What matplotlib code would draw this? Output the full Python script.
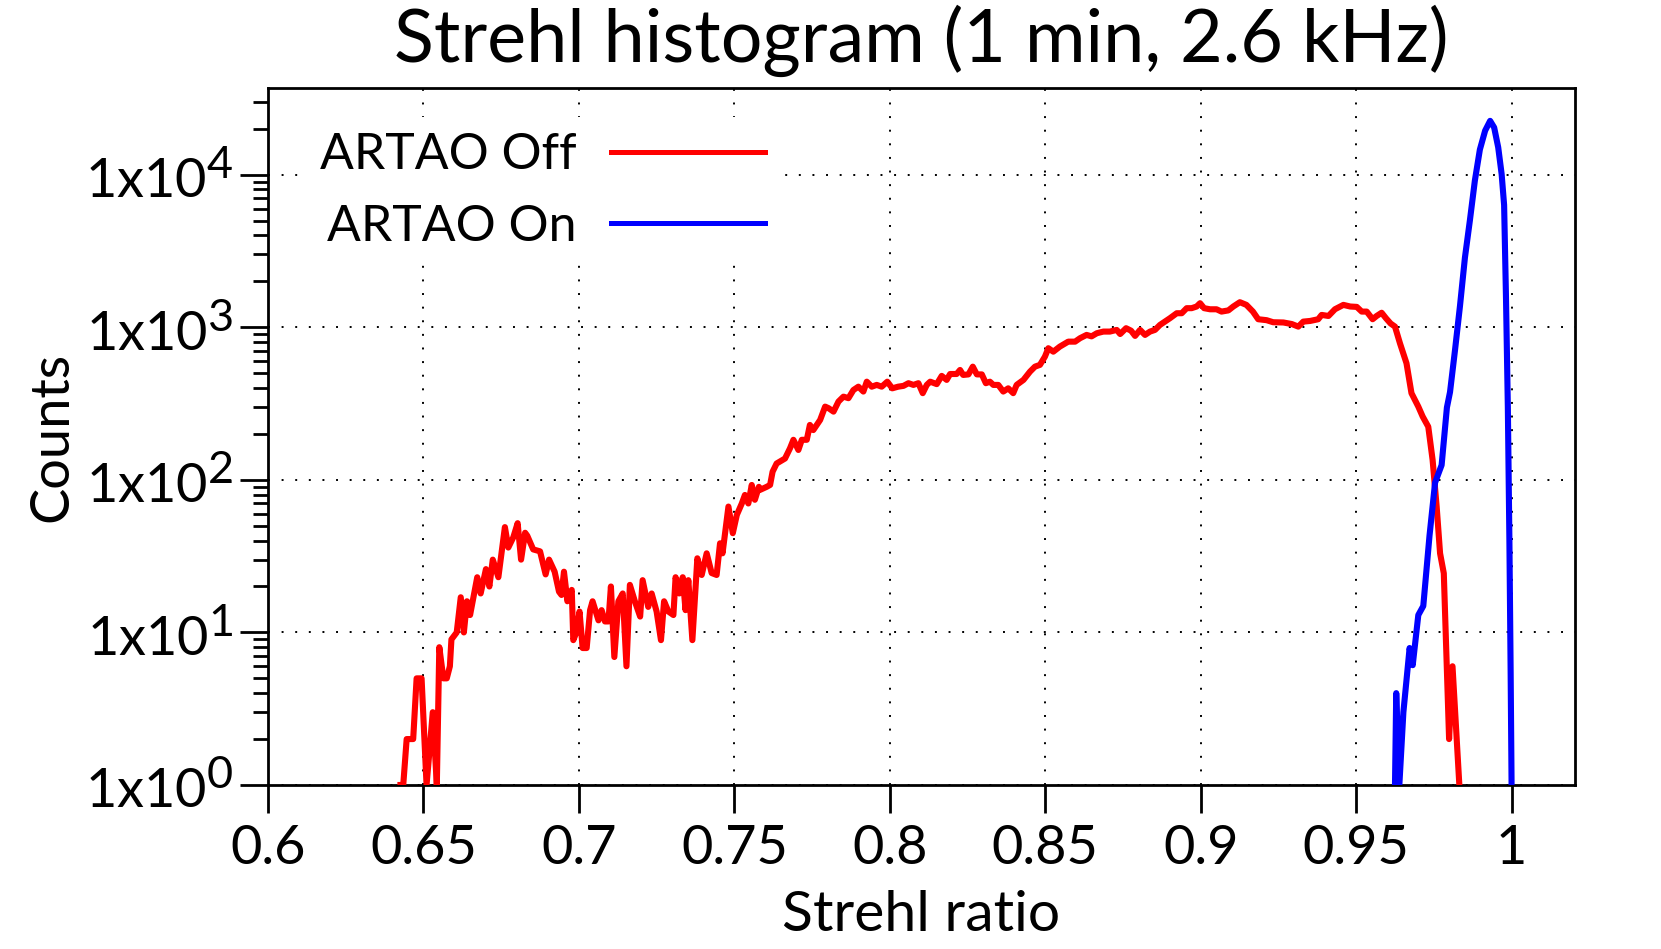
import math

import matplotlib
matplotlib.use("Agg")
import matplotlib.pyplot as plt
import matplotlib._mathtext as mathtext_internals
from matplotlib.ticker import FixedLocator, FuncFormatter, LogLocator, NullFormatter

plt.rcParams["font.family"] = ["Lato", "DejaVu Sans"]
plt.rcParams["mathtext.default"] = "regular"
# gnuplot-style superscripts are bigger than matplotlib's default 0.7
mathtext_internals.SHRINK_FACTOR = 0.83

# Strehl histogram
off_strehl = [
    0.6426, 0.6435, 0.6446, 0.6467, 0.6478, 0.6494, 0.6510, 0.6530, 0.6543, 0.6551,
    0.6564, 0.6575, 0.6585, 0.6590, 0.6607, 0.6620, 0.6630, 0.6640, 0.6650, 0.6673,
    0.6684, 0.6701, 0.6712, 0.6723, 0.6741, 0.6762, 0.6773, 0.6789, 0.6803, 0.6814,
    0.6827, 0.6834, 0.6853, 0.6875, 0.6893, 0.6904, 0.6922, 0.6936, 0.6944, 0.6952,
    0.6963, 0.6977, 0.6982, 0.6991, 0.7002, 0.7012, 0.7025, 0.7036, 0.7044, 0.7063,
    0.7073, 0.7084, 0.7095, 0.7103, 0.7114, 0.7127, 0.7141, 0.7153, 0.7164, 0.7180,
    0.7197, 0.7205, 0.7223, 0.7234, 0.7250, 0.7264, 0.7274, 0.7288, 0.7304, 0.7311,
    0.7323, 0.7334, 0.7343, 0.7352, 0.7365, 0.7381, 0.7395, 0.7411, 0.7427, 0.7443,
    0.7454, 0.7462, 0.7481, 0.7495, 0.7508, 0.7524, 0.7534, 0.7545, 0.7556, 0.7566,
    0.7579, 0.7583, 0.7604, 0.7615, 0.7623, 0.7636, 0.7647, 0.7663, 0.7679, 0.7690,
    0.7706, 0.7717, 0.7733, 0.7743, 0.7754, 0.7776, 0.7792, 0.7803, 0.7819, 0.7835,
    0.7851, 0.7867, 0.7883, 0.7899, 0.7915, 0.7926, 0.7942, 0.7958, 0.7974, 0.7992,
    0.8008, 0.8027, 0.8044, 0.8060, 0.8076, 0.8092, 0.8106, 0.8119, 0.8130, 0.8151,
    0.8167, 0.8183, 0.8194, 0.8215, 0.8226, 0.8236, 0.8253, 0.8267, 0.8280, 0.8296,
    0.8309, 0.8322, 0.8333, 0.8349, 0.8365, 0.8381, 0.8397, 0.8408, 0.8430, 0.8451,
    0.8467, 0.8483, 0.8499, 0.8510, 0.8526, 0.8547, 0.8574, 0.8596, 0.8612, 0.8633,
    0.8649, 0.8666, 0.8687, 0.8708, 0.8730, 0.8741, 0.8760, 0.8776, 0.8789, 0.8805,
    0.8821, 0.8837, 0.8853, 0.8869, 0.8885, 0.8901, 0.8923, 0.8939, 0.8955, 0.8971,
    0.8987, 0.8998, 0.9011, 0.9030, 0.9051, 0.9067, 0.9089, 0.9105, 0.9126, 0.9147,
    0.9168, 0.9185, 0.9212, 0.9233, 0.9266, 0.9293, 0.9314, 0.9330, 0.9352, 0.9378,
    0.9389, 0.9411, 0.9432, 0.9459, 0.9481, 0.9502, 0.9518, 0.9534, 0.9553, 0.9566,
    0.9582, 0.9596, 0.9611, 0.9625, 0.9641, 0.9662, 0.9678, 0.9700, 0.9714, 0.9732,
    0.9746, 0.9759, 0.9770, 0.9782, 0.9799, 0.9810, 0.9832,
]
off_counts = [
    1, 1, 2, 2, 5, 5, 1, 3, 1, 8,
    5, 5, 6, 9, 10, 17, 10, 16, 13, 23,
    18, 26, 20, 30, 23, 49, 36, 42, 52, 30,
    45, 43, 35, 34, 24, 30, 25, 18.5, 17.6, 25,
    16, 19, 8.9, 9.9, 13.7, 7.9, 7.9, 14, 16, 12,
    14, 11.8, 11.8, 20, 6.9, 16, 18, 6, 20.5, 16,
    12.7, 22, 14.7, 18, 13.7, 8.9, 16, 13.7, 13, 23,
    18, 23, 14, 22, 8.9, 30.6, 23.8, 33, 24.5, 23.8,
    38.4, 33, 66.8, 44.7, 58.9, 70, 79.6, 70, 92.6, 74,
    90, 86, 90, 92.6, 113, 128, 132, 138, 161, 183,
    157, 183, 183, 229, 212, 247, 302, 295, 280, 326,
    351, 343, 388, 408, 379, 440, 408, 419, 408, 440,
    398, 408, 413, 430, 419, 430, 370, 419, 440, 424,
    480, 452, 494, 494, 525, 487, 491, 552, 491, 491,
    430, 440, 419, 419, 379, 398, 370, 419, 452, 512,
    552, 567, 642, 729, 692, 747, 805, 805, 848, 891,
    872, 914, 937, 937, 961, 903, 986, 950, 878, 961,
    891, 937, 961, 1036, 1089, 1146, 1236, 1236, 1334, 1334,
    1368, 1438, 1334, 1312, 1312, 1267, 1290, 1368, 1460, 1402,
    1267, 1129, 1113, 1079, 1075, 1050, 1010, 1089, 1100, 1129,
    1205, 1186, 1313, 1402, 1368, 1360, 1267, 1267, 1129, 1186,
    1245, 1146, 1058, 1010, 785, 581, 370, 302, 260, 223,
    135, 66.8, 33, 24.4, 2, 6, 1,
]

on_strehl = [
    0.9625, 0.9629, 0.9639, 0.9652, 0.9672, 0.9682, 0.9700, 0.9716, 0.9736, 0.9754,
    0.9775, 0.9792, 0.9802, 0.9818, 0.9834, 0.9850, 0.9866, 0.9882, 0.9898, 0.9915,
    0.9931, 0.9944, 0.9957, 0.9968, 0.9976, 0.9982, 0.9988, 0.9993, 0.9997, 1.0000,
]
on_counts = [
    1, 4, 1, 3, 7.9, 6.1, 13, 14.9, 43, 96,
    125, 298, 376, 707, 1377, 2866, 5033, 9170, 14600, 19450,
    22540, 20370, 15100, 10100, 6330, 1575, 298, 40, 5.5, 1,
]

xtick_values = [0.6, 0.65, 0.7, 0.75, 0.8, 0.85, 0.9, 0.95, 1.0]
xtick_labels = ["0.6", "0.65", "0.7", "0.75", "0.8", "0.85", "0.9", "0.95", "1"]
ytick_values = [1, 10, 100, 1000, 10000]


def pow10_label(v, pos):
    return "1x10$^{%d}$" % round(math.log10(v))


fig = plt.figure(figsize=(16.61, 9.49), dpi=100)
ax = fig.add_axes([268 / 1661, 1 - 785 / 949, 1307 / 1661, 697 / 949])

ax.plot(off_strehl, off_counts, color="#ff0000", lw=4.4, solid_joinstyle="round",
        label="ARTAO Off", zorder=3)
ax.plot(on_strehl, on_counts, color="#0000ff", lw=4.4, solid_joinstyle="round",
        label="ARTAO On", zorder=3)

ax.set_yscale("log")
ax.set_xlim(0.6, 1.0204)
ax.set_ylim(1, 3.7e4)

ax.xaxis.set_major_locator(FixedLocator(xtick_values))
ax.set_xticklabels(xtick_labels)
ax.yaxis.set_major_locator(FixedLocator(ytick_values))
ax.yaxis.set_major_formatter(FuncFormatter(pow10_label))
ax.yaxis.set_minor_locator(LogLocator(base=10, subs=range(2, 10)))
ax.yaxis.set_minor_formatter(NullFormatter())

ax.tick_params(axis="both", which="major", direction="out", length=20, width=2,
               labelsize=39, top=False, right=False)
ax.tick_params(axis="x", which="major", pad=8)
ax.tick_params(axis="y", which="major", pad=5)
ax.tick_params(axis="y", which="minor", direction="out", length=11, width=2, right=False)
ax.tick_params(axis="x", which="minor", bottom=False, top=False)
for s in ax.spines.values():
    s.set_linewidth(2)

ax.grid(True, which="major", color="black", lw=1.4, linestyle=(0, (1, 6)), zorder=1)
ax.set_axisbelow(True)

ax.set_xlabel("Strehl ratio", fontsize=41, labelpad=12)
ax.set_ylabel("Counts", fontsize=39, labelpad=6)
ax.set_title("Strehl histogram (1 min, 2.6 kHz)", fontsize=53, pad=19)

leg = ax.legend(loc="upper left", bbox_to_anchor=(0.0283, 0.958), borderaxespad=0,
                markerfirst=False, frameon=True, facecolor="white", edgecolor="none",
                framealpha=1, fancybox=False, fontsize=36, handlelength=3.08,
                handletextpad=0.68, borderpad=0.3, labelspacing=0.51)
for line in leg.get_lines():
    line.set_linewidth(3.6)
leg.set_zorder(5)

fig.savefig("out.png", dpi=100)
